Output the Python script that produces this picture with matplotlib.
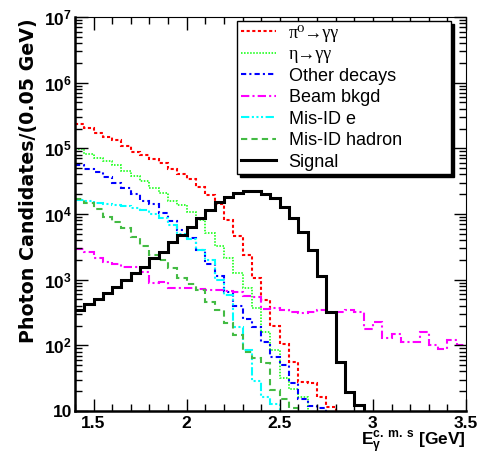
import numpy as np
import matplotlib
matplotlib.use('Agg')
import matplotlib.pyplot as plt
from matplotlib.ticker import FixedLocator, MultipleLocator, LogLocator, NullFormatter

plt.rcParams['font.family'] = ['Liberation Sans', 'DejaVu Sans']
plt.rcParams['mathtext.fontset'] = 'custom'
plt.rcParams['mathtext.rm'] = 'Liberation Sans:bold'
plt.rcParams['mathtext.bf'] = 'Liberation Sans:bold'
plt.rcParams['mathtext.it'] = 'Liberation Sans:bold'

# histogram binning: 0.05 GeV bins from 1.4 to 3.5 GeV
e_min = 1.4
bin_width = 0.05
n_bins = 42

# photon candidates per bin
pi0 = [2.35e5, 2.04e5, 1.71e5, 1.49e5, 1.34e5, 1.09e5, 8.8e4, 7.9e4, 6.9e4, 6.0e4,
       4.9e4, 4.1e4, 3.4e4, 2.6e4, 1.95e4, 1.4e4, 8.1e3, 4.6e3, 2.4e3, 1.07e3,
       490, 200, 106, 56, 28, 27, 16.6, 11.7] + [0] * 14
eta = [9.8e4, 8.2e4, 7.1e4, 6.4e4, 5.6e4, 4.5e4, 3.8e4, 3.2e4, 2.5e4, 2.1e4,
       1.6e4, 1.37e4, 1.07e4, 8.1e3, 5.2e3, 3.2e3, 2.1e3, 1.27e3, 750, 375,
       162, 86, 32, 22, 16.6] + [0] * 17
other = [5.6e4, 4.9e4, 4.4e4, 3.6e4, 2.95e4, 2.5e4, 2.0e4, 1.6e4, 1.4e4, 1.04e4,
         7.8e3, 5.7e3, 4.3e3, 2.8e3, 1.73e3, 1.15e3, 650, 400, 250, 190,
         113, 66, 50, 27, 15, 12, 11] + [0] * 15
beam = [2.9e3, 2.6e3, 2.1e3, 1.85e3, 1.73e3, 1.56e3, 1.56e3, 1.3e3, 900, 930,
        750, 750, 750, 720, 700, 700, 680, 650, 560, 550,
        360, 375, 345, 325, 310, 325, 345, 325, 320, 345,
        320, 175, 230, 130, 150, 112, 112, 160, 100, 89,
        120, 100]
misid_e = [1.64e4, 1.59e4, 1.48e4, 1.43e4, 1.38e4, 1.33e4, 1.24e4, 1.15e4, 1.0e4, 8.7e3,
           6.8e3, 5.0e3, 4.1e3, 2.8e3, 2.0e3, 1.0e3, 590, 190, 86, 29,
           16.6, 13] + [0] * 20
hadron = [1.7e4, 1.48e4, 1.2e4, 9.1e3, 7.6e3, 6.2e3, 4.5e3, 3.3e3, 2.4e3, 2.0e3,
          1.5e3, 1.07e3, 870, 690, 450, 345, 220, 145, 79, 65,
          54, 21, 15, 11] + [0] * 18
signal = [345, 430, 510, 630, 780, 1.0e3, 1.27e3, 1.55e3, 2.1e3, 2.6e3,
          3.8e3, 4.8e3, 6.3e3, 8.7e3, 1.15e4, 1.5e4, 1.8e4, 2.1e4, 2.2e4, 2.2e4,
          2.0e4, 1.76e4, 1.29e4, 8.7e3, 5.4e3, 2.8e3, 1.15e3, 325, 56, 19.5,
          12.3] + [0] * 11

edges = e_min + bin_width * np.arange(n_bins + 1)

fig = plt.figure(figsize=(4.8, 4.55), dpi=100)
ax = fig.add_axes([0.156, 0.0967, 0.815, 0.866])

ax.stairs(pi0, edges, baseline=None, color='#ff0000', lw=1.5, ls=(0, (1.5, 1.2)), label='π⁰→γγ')
ax.stairs(eta, edges, baseline=None, color='#00ff00', lw=1.1, ls=(0, (1, 1)), label='η→γγ')
ax.stairs(other, edges, baseline=None, color='#0000ff', lw=1.5, ls=(0, (2.5, 1.5, 1, 1.5)), label='Other decays')
ax.stairs(beam, edges, baseline=None, color='#ff00ff', lw=1.5, ls=(0, (4, 1.5, 1, 1.5)), label='Beam bkgd')
ax.stairs(misid_e, edges, baseline=None, color='#00ffff', lw=1.5, ls=(0, (4, 1.2, 1, 1.2, 1, 1.2, 1, 1.2)), label='Mis-ID e')
ax.stairs(hadron, edges, baseline=None, color='#44bb44', lw=1.5, ls=(0, (3, 2)), label='Mis-ID hadron')
ax.stairs(signal, edges, baseline=None, color='black', lw=2.2, label='Signal')

ax.set_yscale('log')
ax.set_xlim(1.4, 3.5)
ax.set_ylim(10, 1e7)

ax.xaxis.set_major_locator(FixedLocator([1.5, 2.0, 2.5, 3.0, 3.5]))
ax.xaxis.set_minor_locator(MultipleLocator(0.1))
ax.set_xticklabels(['1.5', '2', '2.5', '3', '3.5'])
ax.yaxis.set_major_locator(FixedLocator([1e1, 1e2, 1e3, 1e4, 1e5, 1e6, 1e7]))
ax.yaxis.set_minor_locator(LogLocator(base=10, subs=np.arange(2, 10)))
ax.yaxis.set_minor_formatter(NullFormatter())
ax.set_yticklabels(['10', '$10^2$', '$10^3$', '$10^4$', '$10^5$', '$10^6$', '$10^7$'])

ax.tick_params(which='both', direction='in', top=True, right=True, width=1)
ax.tick_params(which='major', length=9)
ax.tick_params(which='minor', length=5)
ax.tick_params(axis='x', which='major', pad=3.5, labelsize=12.5)
ax.tick_params(axis='y', which='major', pad=2, labelsize=12.5)
for lab in ax.get_xticklabels() + ax.get_yticklabels():
    lab.set_fontweight('bold')

ax.spines['left'].set_linewidth(1.8)
ax.spines['bottom'].set_linewidth(1.8)
ax.spines['top'].set_linewidth(0.8)
ax.spines['right'].set_linewidth(0.8)

ax.set_ylabel('Photon Candidates/(0.05 GeV)', fontsize=13.7, fontweight='bold',
              family='DejaVu Sans', ha='right')
ax.yaxis.set_label_coords(-0.095, 0.997)
ax.set_xlabel(r'E$_\gamma^{\mathregular{c.\:m.\:s}}$ [GeV]', fontsize=12.5, fontweight='bold',
              ha='right', va='baseline')
ax.xaxis.set_label_coords(1.0, -0.088)

leg = ax.legend(loc='upper left', bbox_to_anchor=(0.494, 0.622, 0.446, 0.332),
                bbox_transform=fig.transFigure, mode='expand', fontsize=13,
                frameon=True, fancybox=False, framealpha=1, edgecolor='black',
                shadow={'color': 'black', 'alpha': 1}, borderaxespad=0,
                handlelength=1.95, handletextpad=0.7, labelspacing=0.25,
                borderpad=0.2)
leg.get_frame().set_linewidth(1)
for t in leg.get_texts()[:2]:
    t.set_family(['Liberation Serif', 'DejaVu Serif'])

fig.savefig('out.png', dpi=100)
